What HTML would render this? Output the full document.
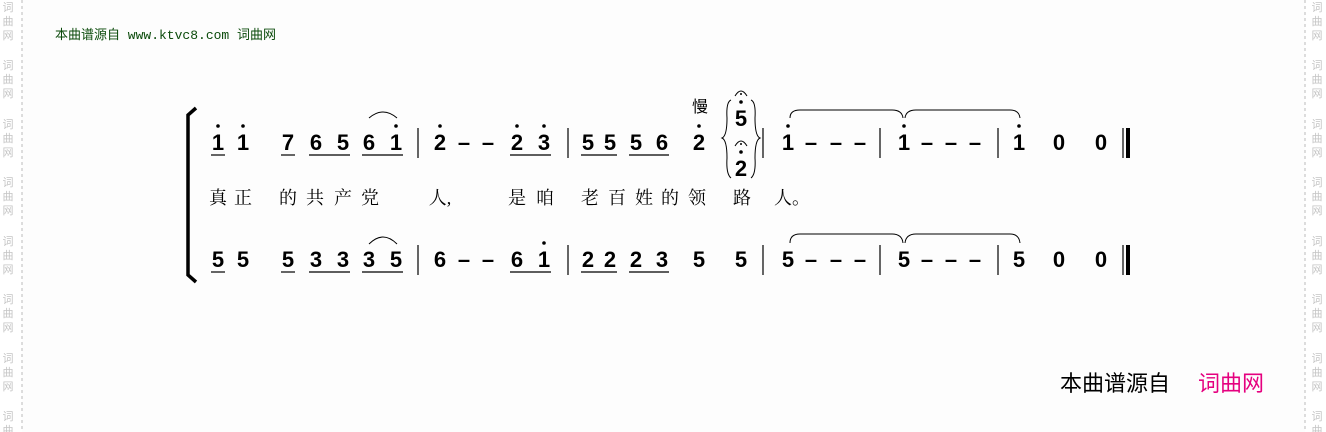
<!DOCTYPE html>
<html><head><meta charset="utf-8"><style>
html,body{margin:0;padding:0;background:#fff;}
svg{display:block}
.d{font-family:"Liberation Sans",sans-serif;font-weight:bold;font-size:22px;fill:#000;text-anchor:middle}
.l{font-family:"Liberation Serif","Noto Serif CJK SC",serif;font-size:18px;fill:#000;text-anchor:middle}
.w{font-family:"Liberation Sans","Noto Sans CJK SC",sans-serif;font-size:11px;fill:#c4c4c4;text-anchor:middle}
</style></head><body>
<svg width="1326" height="432" viewBox="0 0 1326 432" xmlns="http://www.w3.org/2000/svg">
<rect x="22" y="0" width="1283" height="432" fill="#fdfdfd"/>
<line x1="22" y1="0" x2="22" y2="432" stroke="#bbb" stroke-dasharray="3,3"/>
<line x1="1305" y1="0" x2="1305" y2="432" stroke="#bbb" stroke-dasharray="3,3"/>
<g id="wm">
<text class="w" x="8" y="11">词</text><text class="w" x="8" y="25">曲</text><text class="w" x="8" y="39">网</text>
<text class="w" x="8" y="69">词</text><text class="w" x="8" y="83">曲</text><text class="w" x="8" y="97">网</text>
<text class="w" x="8" y="128">词</text><text class="w" x="8" y="142">曲</text><text class="w" x="8" y="156">网</text>
<text class="w" x="8" y="186">词</text><text class="w" x="8" y="200">曲</text><text class="w" x="8" y="214">网</text>
<text class="w" x="8" y="245">词</text><text class="w" x="8" y="259">曲</text><text class="w" x="8" y="273">网</text>
<text class="w" x="8" y="303">词</text><text class="w" x="8" y="317">曲</text><text class="w" x="8" y="331">网</text>
<text class="w" x="8" y="362">词</text><text class="w" x="8" y="376">曲</text><text class="w" x="8" y="390">网</text>
<text class="w" x="8" y="420">词</text><text class="w" x="8" y="434">曲</text>
</g>
<use href="#wm" x="1309"/>
<text x="55" y="39" font-family="'Liberation Mono','Noto Sans CJK SC',monospace" font-size="13" fill="#0a4a0a">本曲谱源自 www.ktvc8.com 词曲网</text>

<!-- bracket -->
<path d="M196 108 L188 115 L188 275 L196 282" fill="none" stroke="#000" stroke-width="3.5"/>

<!-- top row -->
<g>
<text class="d" x="218" y="150">1</text><text class="d" x="243" y="150">1</text>
<text class="d" x="288" y="150">7</text><text class="d" x="316" y="150">6</text><text class="d" x="343" y="150">5</text>
<text class="d" x="369" y="150">6</text><text class="d" x="396" y="150">1</text>
<text class="d" x="440" y="150">2</text><text class="d" x="464" y="150">–</text><text class="d" x="488" y="150">–</text>
<text class="d" x="517" y="150">2</text><text class="d" x="544" y="150">3</text>
<text class="d" x="588" y="150">5</text><text class="d" x="610" y="150">5</text><text class="d" x="636" y="150">5</text><text class="d" x="662" y="150">6</text>
<text class="d" x="699" y="150">2</text>
<text class="d" x="788" y="150">1</text><text class="d" x="811" y="150">–</text><text class="d" x="836" y="150">–</text><text class="d" x="860" y="150">–</text>
<text class="d" x="904" y="150">1</text><text class="d" x="927" y="150">–</text><text class="d" x="951" y="150">–</text><text class="d" x="975" y="150">–</text>
<text class="d" x="1019" y="150">1</text><text class="d" x="1059" y="150">0</text><text class="d" x="1101" y="150">0</text>
<g fill="#000">
<circle cx="218" cy="126" r="1.8"/><circle cx="243" cy="126" r="1.8"/><circle cx="396" cy="126" r="1.8"/>
<circle cx="440" cy="126" r="1.8"/><circle cx="517" cy="126" r="1.8"/><circle cx="544" cy="126" r="1.8"/>
<circle cx="699" cy="126" r="1.8"/><circle cx="788" cy="126" r="1.8"/><circle cx="904" cy="126" r="1.8"/><circle cx="1019" cy="126" r="1.8"/>
</g>
<g stroke="#000" stroke-width="1.2">
<line x1="211" y1="155" x2="225" y2="155"/><line x1="281" y1="155" x2="295" y2="155"/>
<line x1="309" y1="155" x2="350" y2="155"/><line x1="362" y1="155" x2="403" y2="155"/>
<line x1="510" y1="155" x2="551" y2="155"/><line x1="581" y1="155" x2="617" y2="155"/><line x1="629" y1="155" x2="669" y2="155"/>
</g>
<path d="M369 118 Q383 106 397 118" fill="none" stroke="#000"/>
<path d="M790 118 Q790 110 800 110 L892 110 Q902 110 903 118" fill="none" stroke="#000"/>
<path d="M905 118 Q906 110 916 110 L1010 110 Q1019 110 1020 118" fill="none" stroke="#000"/>
</g>

<!-- 慢 and brace group -->
<text x="700" y="112" font-family="'Noto Sans CJK SC',sans-serif" font-size="16" text-anchor="middle">慢</text>
<text class="d" x="741" y="126" font-size="20">5</text>
<text class="d" x="741" y="176" font-size="20">2</text>
<circle cx="741" cy="102" r="1.8"/><circle cx="741" cy="152" r="1.8"/>
<path d="M735 96 Q741 86 747 96" fill="none" stroke="#000"/><circle cx="741" cy="94" r="1"/>
<path d="M735 146 Q741 136 747 146" fill="none" stroke="#000"/><circle cx="741" cy="144" r="1"/>
<path d="M731 100 Q726 102 727 118 Q727 136 722 138 Q727 140 727 158 Q726 174 731 178" fill="none" stroke="#000"/>
<path d="M751 100 Q756 102 755 118 Q755 136 760 138 Q755 140 755 158 Q756 174 751 178" fill="none" stroke="#000"/>

<g stroke="#000" stroke-width="1.2">
<line x1="418" y1="128" x2="418" y2="158"/><line x1="568" y1="128" x2="568" y2="158"/>
<line x1="763" y1="128" x2="763" y2="158"/><line x1="880" y1="128" x2="880" y2="158"/><line x1="998" y1="128" x2="998" y2="158"/>
<line x1="1123" y1="128" x2="1123" y2="158"/>
<line x1="418" y1="245" x2="418" y2="275"/><line x1="568" y1="245" x2="568" y2="275"/>
<line x1="763" y1="245" x2="763" y2="275"/><line x1="880" y1="245" x2="880" y2="275"/><line x1="998" y1="245" x2="998" y2="275"/>
<line x1="1123" y1="245" x2="1123" y2="275"/>
</g>
<rect x="1126" y="128" width="4" height="30" fill="#000"/>
<rect x="1126" y="245" width="4" height="30" fill="#000"/>

<g class="l">
<text class="l" x="218" y="204">真</text><text class="l" x="243" y="204">正</text>
<text class="l" x="288" y="204">的</text><text class="l" x="315" y="204">共</text><text class="l" x="343" y="204">产</text><text class="l" x="370" y="204">党</text>
<text class="l" x="440" y="204">人,</text>
<text class="l" x="517" y="204">是</text><text class="l" x="545" y="204">咱</text>
<text class="l" x="590" y="204">老</text><text class="l" x="617" y="204">百</text><text class="l" x="644" y="204">姓</text><text class="l" x="670" y="204">的</text><text class="l" x="697" y="204">领</text>
<text class="l" x="742" y="204">路</text><text class="l" x="783" y="204">人</text><text class="l" x="801" y="204">。</text>
</g>

<g>
<text class="d" x="218" y="267">5</text><text class="d" x="243" y="267">5</text>
<text class="d" x="288" y="267">5</text><text class="d" x="316" y="267">3</text><text class="d" x="343" y="267">3</text>
<text class="d" x="369" y="267">3</text><text class="d" x="396" y="267">5</text>
<text class="d" x="440" y="267">6</text><text class="d" x="464" y="267">–</text><text class="d" x="488" y="267">–</text>
<text class="d" x="517" y="267">6</text><text class="d" x="544" y="267">1</text>
<text class="d" x="588" y="267">2</text><text class="d" x="610" y="267">2</text><text class="d" x="636" y="267">2</text><text class="d" x="662" y="267">3</text>
<text class="d" x="699" y="267">5</text><text class="d" x="741" y="267">5</text>
<text class="d" x="788" y="267">5</text><text class="d" x="811" y="267">–</text><text class="d" x="836" y="267">–</text><text class="d" x="860" y="267">–</text>
<text class="d" x="904" y="267">5</text><text class="d" x="927" y="267">–</text><text class="d" x="951" y="267">–</text><text class="d" x="975" y="267">–</text>
<text class="d" x="1019" y="267">5</text><text class="d" x="1059" y="267">0</text><text class="d" x="1101" y="267">0</text>
<circle cx="544" cy="243" r="1.8"/>
<g stroke="#000" stroke-width="1.2">
<line x1="211" y1="272" x2="225" y2="272"/><line x1="281" y1="272" x2="295" y2="272"/>
<line x1="309" y1="272" x2="350" y2="272"/><line x1="362" y1="272" x2="403" y2="272"/>
<line x1="510" y1="272" x2="551" y2="272"/><line x1="581" y1="272" x2="617" y2="272"/><line x1="629" y1="272" x2="669" y2="272"/>
</g>
<path d="M369 244 Q383 230 397 244" fill="none" stroke="#000"/>
<path d="M790 243 Q790 234 800 234 L892 234 Q902 234 903 243" fill="none" stroke="#000"/>
<path d="M905 243 Q906 234 916 234 L1010 234 Q1019 234 1020 243" fill="none" stroke="#000"/>
</g>

<text x="1060" y="391" font-family="'Noto Sans CJK SC',sans-serif" font-size="22" fill="#000">本曲谱源自</text>
<text x="1198" y="391" font-family="'Noto Sans CJK SC',sans-serif" font-size="22" fill="#e5007f">词曲网</text>
</svg>
</body></html>
